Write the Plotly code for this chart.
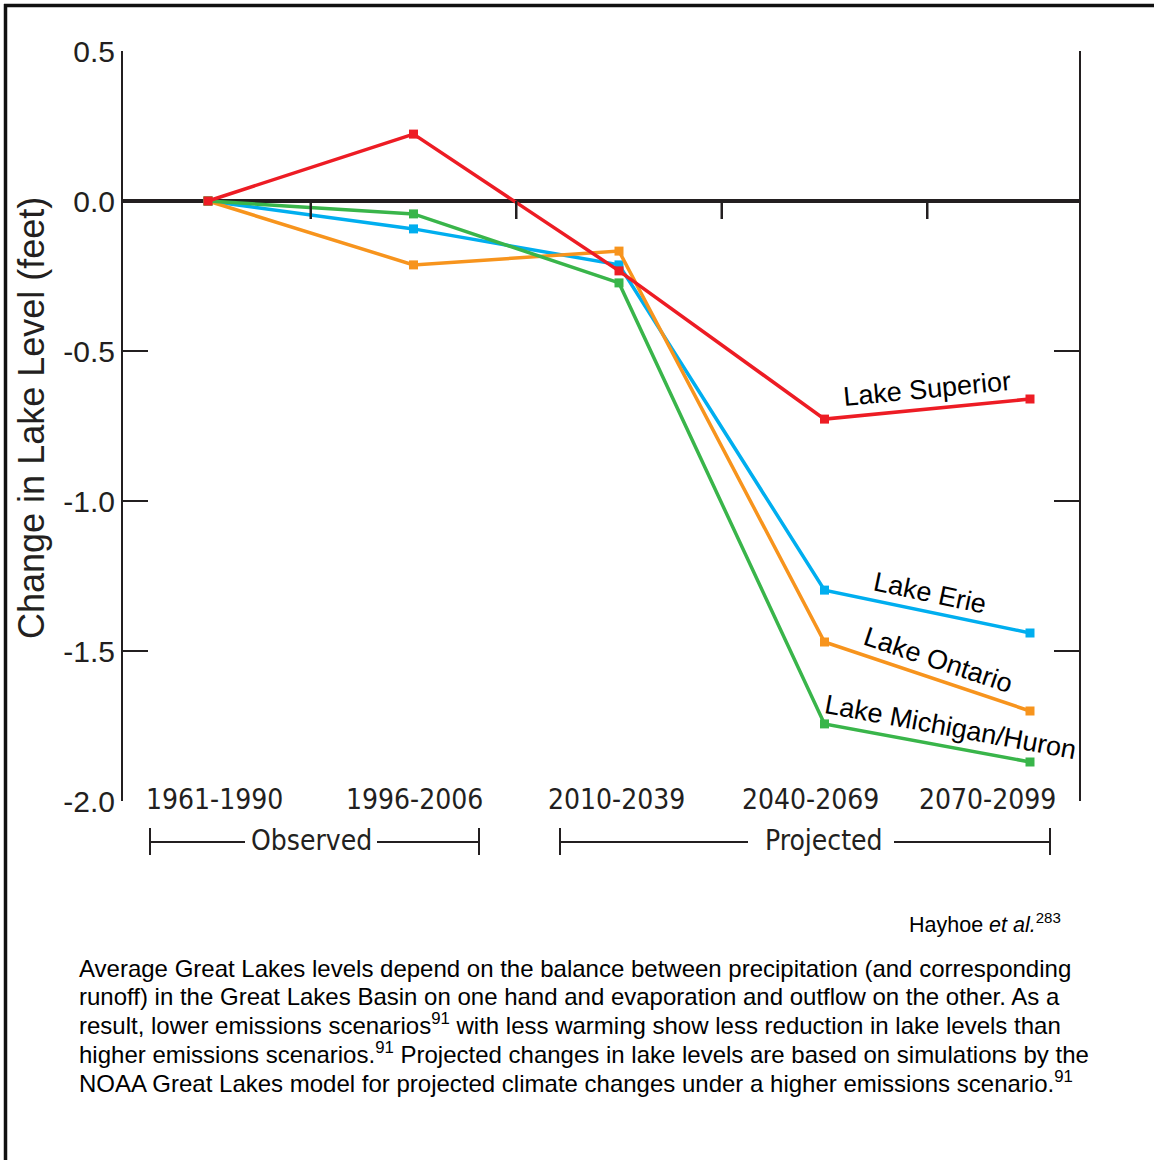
import plotly.graph_objects as go

periods = ["1961-1990", "1996-2006", "2010-2039", "2040-2069", "2070-2099"]
x_idx = [0, 1, 2, 3, 4]

superior = [0.0, 0.223, -0.233, -0.727, -0.66]
erie = [0.0, -0.093, -0.213, -1.297, -1.44]
ontario = [0.0, -0.213, -0.167, -1.47, -1.70]
michigan = [0.0, -0.043, -0.273, -1.743, -1.87]

series = [
    ("Lake Erie", erie, "#00AEEF"),
    ("Lake Ontario", ontario, "#F7941D"),
    ("Lake Michigan/Huron", michigan, "#39B54A"),
    ("Lake Superior", superior, "#ED1C24"),
]

y_tickvals = [0.5, 0.0, -0.5, -1.0, -1.5, -2.0]
y_ticktext = ["0.5", "0.0", "-0.5", "-1.0", "-1.5", "-2.0"]

caption_lines = [
    "Average Great Lakes levels depend on the balance between precipitation (and corresponding",
    "runoff) in the Great Lakes Basin on one hand and evaporation and outflow on the other. As a",
    "result, lower emissions scenarios<sup>91</sup> with less warming show less reduction in lake levels than",
    "higher emissions scenarios.<sup>91</sup> Projected changes in lake levels are based on simulations by the",
    "NOAA Great Lakes model for projected climate changes under a higher emissions scenario.<sup>91</sup>",
]

W, H = 1154, 1160
L, R, T, B = 123, 1079, 51, 801
TXT = "#231f20"
COND = "Liberation Sans Narrow, DejaVu Sans Condensed, Arial Narrow, Arial, sans-serif"
ARIAL = "Arial, Liberation Sans, Helvetica, sans-serif"


def px(x):
    return (x - L) / (R - L)


def py(y):
    return (B - y) / (B - T)


fig = go.Figure()
for name, vals, col in series:
    fig.add_trace(go.Scatter(
        x=x_idx, y=vals, mode="lines+markers", name=name,
        line=dict(color=col, width=3.5),
        marker=dict(symbol="square", size=9, color=col),
        showlegend=False, cliponaxis=False, hoverinfo="skip",
    ))

shapes = []
# small ticks between periods on the zero line
for i in range(len(periods) - 1):
    shapes.append(dict(type="line", xref="x", yref="y", x0=i + 0.5, x1=i + 0.5,
                       y0=0, y1=-0.06, line=dict(color=TXT, width=2.5)))


def seg(x0, y0, x1, y1, w=2):
    shapes.append(dict(type="line", xref="paper", yref="paper",
                       x0=px(x0), x1=px(x1), y0=py(y0), y1=py(y1),
                       line=dict(color=TXT, width=w)))


# Observed bracket
seg(150, 828, 150, 855)
seg(150, 842, 245, 842)
seg(377, 842, 479, 842)
seg(479, 828, 479, 855)
# Projected bracket
seg(560, 828, 560, 855)
seg(560, 842, 748, 842)
seg(894, 842, 1050, 842)
seg(1050, 828, 1050, 855)
# outer frame
shapes.append(dict(type="line", xref="paper", yref="paper", x0=px(4), x1=px(1160),
                   y0=py(5.5), y1=py(5.5), line=dict(color="#111111", width=3.5)))
shapes.append(dict(type="line", xref="paper", yref="paper", x0=px(5.5), x1=px(5.5),
                   y0=py(4), y1=py(1170), line=dict(color="#111111", width=3.5)))

annotations = []
label_px = [214, 414, 616, 810, 987]
for lab, xp in zip(periods, label_px):
    annotations.append(dict(text=lab, xref="paper", yref="paper", x=px(xp), y=py(799),
                            xanchor="center", yanchor="middle", showarrow=False,
                            font=dict(family=COND, size=28, color=TXT)))
annotations.append(dict(text="Observed", xref="paper", yref="paper", x=px(311), y=py(841),
                        xanchor="center", yanchor="middle", showarrow=False,
                        font=dict(family=COND, size=28, color=TXT)))
annotations.append(dict(text="Projected", xref="paper", yref="paper", x=px(824), y=py(841),
                        xanchor="center", yanchor="middle", showarrow=False,
                        font=dict(family=COND, size=28, color=TXT)))

# lake labels
lake_labels = [
    ("Lake Superior", 927, 389, -5.5),
    ("Lake Erie", 930, 593, 12),
    ("Lake Ontario", 938, 660, 18.5),
    ("Lake Michigan/Huron", 950, 727, 10.5),
]
for txt, xp, yp, ang in lake_labels:
    annotations.append(dict(text=txt, xref="paper", yref="paper", x=px(xp), y=py(yp),
                            xanchor="center", yanchor="middle", showarrow=False,
                            textangle=ang, font=dict(family=ARIAL, size=27, color="#000000")))

# y-axis title
annotations.append(dict(text="Change in Lake Level (feet)", xref="paper", yref="paper",
                        x=px(32), y=py(418), xanchor="center", yanchor="middle",
                        textangle=-90, showarrow=False,
                        font=dict(family=ARIAL, size=36, color=TXT)))

# source
annotations.append(dict(text="Hayhoe <i>et al.</i><sup>283</sup>", xref="paper", yref="paper",
                        x=px(1063), y=py(923), xanchor="right", yanchor="middle",
                        showarrow=False, font=dict(family=ARIAL, size=21.5, color="#000000")))

cap_y = [969, 997, 1026, 1055, 1084]
for line, yv in zip(caption_lines, cap_y):
    annotations.append(dict(text=line, xref="paper", yref="paper", x=px(77), y=py(yv + 15),
                            xanchor="left", yanchor="bottom", showarrow=False,
                            font=dict(family=ARIAL, size=24, color="#000000")))

fig.update_layout(
    width=W, height=H, autosize=False,
    margin=dict(l=L, r=W - R, t=T, b=H - B, pad=0),
    paper_bgcolor="white", plot_bgcolor="white",
    hovermode=False,
    xaxis=dict(range=[(L - 208) / 205.5, (R - 208) / 205.5], showgrid=False,
               zeroline=False, showline=False, showticklabels=False, ticks=""),
    yaxis=dict(range=[-2.0, 0.5], showgrid=False, zeroline=True,
               zerolinecolor=TXT, zerolinewidth=3.5,
               showline=True, linecolor=TXT, linewidth=2, mirror="ticks",
               ticks="inside", ticklen=25, tickwidth=2, tickcolor=TXT,
               tickvals=y_tickvals, ticktext=y_ticktext,
               tickfont=dict(family=ARIAL, size=30, color=TXT),
               ticklabelstandoff=0),
    shapes=shapes, annotations=annotations,
)

fig.write_html("out.html", config={"displayModeBar": False, "staticPlot": True},
               post_script="document.body.style.margin='0';document.body.style.padding='0';")
